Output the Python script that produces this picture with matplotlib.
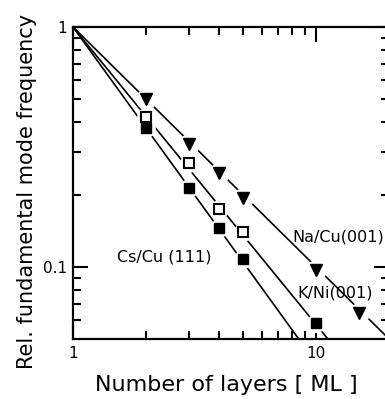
import matplotlib
matplotlib.use('Agg')
import matplotlib.pyplot as plt
from matplotlib.ticker import FixedLocator, FixedFormatter, NullFormatter

# ---- data ----
na_x = [2, 3, 4, 5, 10, 15]
na_y = [0.50, 0.325, 0.246, 0.193, 0.097, 0.0645]
kni_x = [2, 3, 4, 5]
kni_y = [0.42, 0.27, 0.174, 0.140]
cs_x = [2, 3, 4, 5, 10]
cs_y = [0.378, 0.213, 0.145, 0.108, 0.0586]

# fitted power-law lines (end points)
na_fit_x = [1, 20]
na_fit_y = [1, 0.05]
kni_fit_x = [1, 11.2]
kni_fit_y = [1, 0.05]
cs_fit_x = [1, 8.5]
cs_fit_y = [1, 0.05]

x_major = [1, 10]
x_major_labels = ['1', '10']
x_minor = [2, 3, 4, 5, 6, 7, 8, 9, 20]
y_major = [0.1, 1]
y_major_labels = ['0.1', '1']
y_minor = [0.06, 0.07, 0.08, 0.09, 0.2, 0.3, 0.4, 0.5, 0.6, 0.7, 0.8, 0.9]

fig = plt.figure(figsize=(3.85, 3.99), dpi=100)
ax = fig.add_axes([0.189, 0.150, 0.822, 0.783])
ax.set_xscale('log')
ax.set_yscale('log')
ax.set_xlim(1, 20)
ax.set_ylim(0.05, 1)

lw = 1.2
for fx, fy in [(na_fit_x, na_fit_y), (kni_fit_x, kni_fit_y), (cs_fit_x, cs_fit_y)]:
    ax.plot(fx, fy, color='black', lw=lw, zorder=2, solid_capstyle='butt')

# white halos to break the lines near markers
ax.plot(na_x, na_y, ls='none', marker='o', ms=14, mfc='white', mec='white', zorder=3)
ax.plot(kni_x, kni_y, ls='none', marker='o', ms=12.5, mfc='white', mec='white', zorder=3)
ax.plot(cs_x, cs_y, ls='none', marker='o', ms=12.5, mfc='white', mec='white', zorder=3)

ax.plot(na_x, na_y, ls='none', marker='v', ms=8.5, mfc='black', mec='black', zorder=4)
ax.plot(kni_x, kni_y, ls='none', marker='s', ms=6.5, mfc='white', mec='black', mew=1.5, zorder=4)
ax.plot(cs_x, cs_y, ls='none', marker='s', ms=7.5, mfc='black', mec='black', zorder=4)

def px(xp, yp):
    return fig.transFigure.inverted().transform((xp, 399 - yp))

lab_fs = 11.5
fig.text(*px(292, 237), 'Na/Cu(001)', fontsize=lab_fs, va='center', ha='left')
fig.text(*px(297, 293), 'K/Ni(001)', fontsize=lab_fs, va='center', ha='left')
fig.text(*px(117, 257), 'Cs/Cu (111)', fontsize=lab_fs, va='center', ha='left')

ax.xaxis.set_major_locator(FixedLocator(x_major))
ax.xaxis.set_major_formatter(FixedFormatter(x_major_labels))
ax.xaxis.set_minor_locator(FixedLocator(x_minor))
ax.xaxis.set_minor_formatter(NullFormatter())
ax.yaxis.set_major_locator(FixedLocator(y_major))
ax.yaxis.set_major_formatter(FixedFormatter(y_major_labels))
ax.yaxis.set_minor_locator(FixedLocator(y_minor))
ax.yaxis.set_minor_formatter(NullFormatter())

ax.tick_params(which='both', direction='in', top=True, right=True, width=1.5, labelsize=11)
ax.tick_params(which='major', length=10.5)
ax.tick_params(which='minor', length=5.5)
ax.tick_params(axis='x', pad=5)
ax.tick_params(axis='y', pad=4)

for s in ax.spines.values():
    s.set_linewidth(1.6)

ax.set_xlabel('Number of layers [ ML ]', fontsize=16)
ax.set_ylabel('Rel. fundamental mode frequency', fontsize=15)
ax.xaxis.set_label_coords(0.484, -0.147, transform=ax.transAxes)
ax.yaxis.set_label_coords(-0.145, 0.474, transform=ax.transAxes)
ax.xaxis.label.set_va('center')
ax.yaxis.label.set_va('center')

fig.savefig('out.png', dpi=100)
